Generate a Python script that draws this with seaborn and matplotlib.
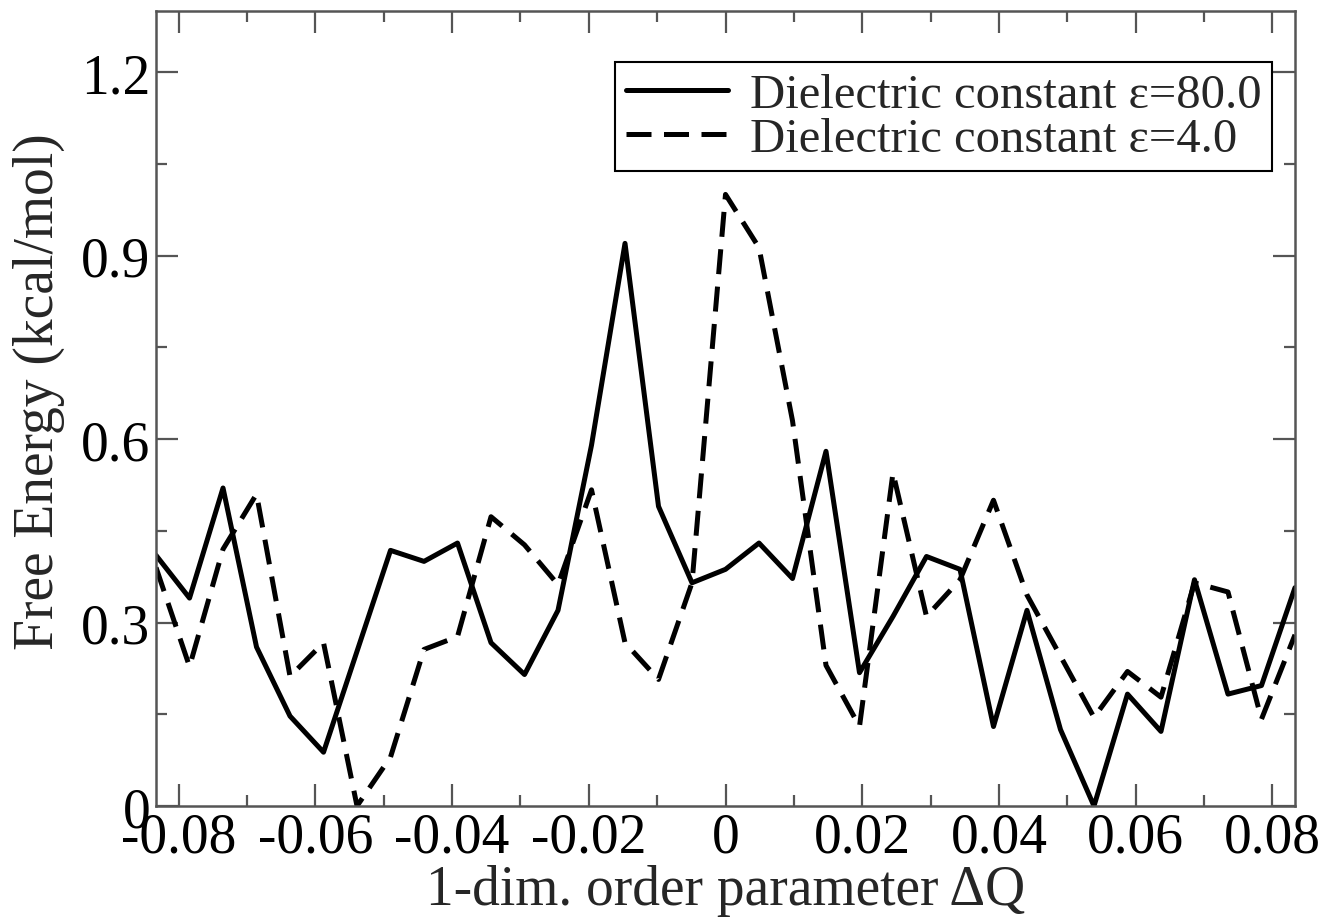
import numpy as np
import pandas as pd
import matplotlib
matplotlib.use("Agg")
import matplotlib.pyplot as plt
from matplotlib.ticker import MultipleLocator
import seaborn as sns

# bin centres of the 1-dim. order parameter
dq = [-0.0833, -0.0784, -0.0735, -0.0686, -0.0637, -0.0588, -0.0539, -0.0490,
      -0.0441, -0.0392, -0.0343, -0.0294, -0.0245, -0.0196, -0.0147, -0.0098,
      -0.0049, 0.0, 0.0049, 0.0098, 0.0147, 0.0196, 0.0245, 0.0294, 0.0343,
      0.0392, 0.0441, 0.0490, 0.0539, 0.0588, 0.0637, 0.0686, 0.0735, 0.0784,
      0.0833]

# free energy (kcal/mol), eps = 80.0
fe_eps80 = [0.41, 0.34, 0.52, 0.26, 0.147, 0.088, 0.253, 0.418, 0.40, 0.43,
            0.267, 0.215, 0.32, 0.59, 0.92, 0.49, 0.365, 0.387, 0.43, 0.372,
            0.58, 0.218, 0.31, 0.408, 0.387, 0.13, 0.32, 0.125, 0.0, 0.183,
            0.122, 0.37, 0.183, 0.197, 0.357]

# free energy (kcal/mol), eps = 4.0
fe_eps4 = [0.39, 0.228, 0.42, 0.51, 0.212, 0.267, 0.0, 0.08, 0.256, 0.277,
           0.473, 0.427, 0.362, 0.517, 0.267, 0.207, 0.365, 1.0, 0.913, 0.63,
           0.23, 0.13, 0.545, 0.31, 0.37, 0.50, 0.345, 0.245, 0.145, 0.22,
           0.178, 0.365, 0.35, 0.142, 0.28]

labels = ["Dielectric constant ε=80.0", "Dielectric constant ε=4.0"]

df = pd.concat([
    pd.DataFrame({"dq": dq, "fe": fe_eps80, "series": labels[0]}),
    pd.DataFrame({"dq": dq, "fe": fe_eps4, "series": labels[1]}),
])

sns.set_theme(style="ticks")
plt.rcParams["font.family"] = ["Liberation Serif", "DejaVu Serif"]

fig = plt.figure(figsize=(13.29, 9.2), dpi=100)
ax = fig.add_axes([0.1174, 0.1228, 0.857, 0.8642])

sns.lineplot(data=df, x="dq", y="fe", style="series", color="black",
             dashes={labels[0]: "", labels[1]: (5, 2.5)},
             linewidth=3.6, sort=False, ax=ax)

ax.set_xlim(-0.0833, 0.0833)
ax.set_ylim(0, 1.3)
ax.xaxis.set_minor_locator(MultipleLocator(0.01))
ax.yaxis.set_minor_locator(MultipleLocator(0.15))
ax.set_xticks([-0.08, -0.06, -0.04, -0.02, 0, 0.02, 0.04, 0.06, 0.08])
ax.set_xticklabels(["-0.08", "-0.06", "-0.04", "-0.02", "0", "0.02", "0.04", "0.06", "0.08"])
ax.set_yticks([0, 0.3, 0.6, 0.9, 1.2])
ax.set_yticklabels(["0", "0.3", "0.6", "0.9", "1.2"])

ax.tick_params(which="both", direction="in", top=True, right=True,
               colors="#555555", labelcolor="black", labelsize=40, width=1.6)
ax.tick_params(which="major", length=16, pad=4)
ax.tick_params(which="minor", length=8)
for s in ax.spines.values():
    s.set_color("#555555")
    s.set_linewidth(1.8)

ax.set_xlabel("1-dim. order parameter ΔQ", fontsize=40, labelpad=0)
ax.set_ylabel("Free Energy (kcal/mol)", fontsize=40)
ax.yaxis.set_label_coords(-0.08, 0.522)

sns.move_legend(ax, "upper right", bbox_to_anchor=(0.980, 0.936), title=None,
                frameon=True, fancybox=False, edgecolor="black", framealpha=1,
                fontsize=35, borderaxespad=0, handlelength=2.1,
                handletextpad=0.45, labelspacing=0.0, borderpad=0.22)
leg = ax.get_legend()
leg.get_frame().set_linewidth(1.5)
for h in leg.legend_handles:
    h.set_linewidth(3.6)

fig.savefig("out.png", dpi=100)
